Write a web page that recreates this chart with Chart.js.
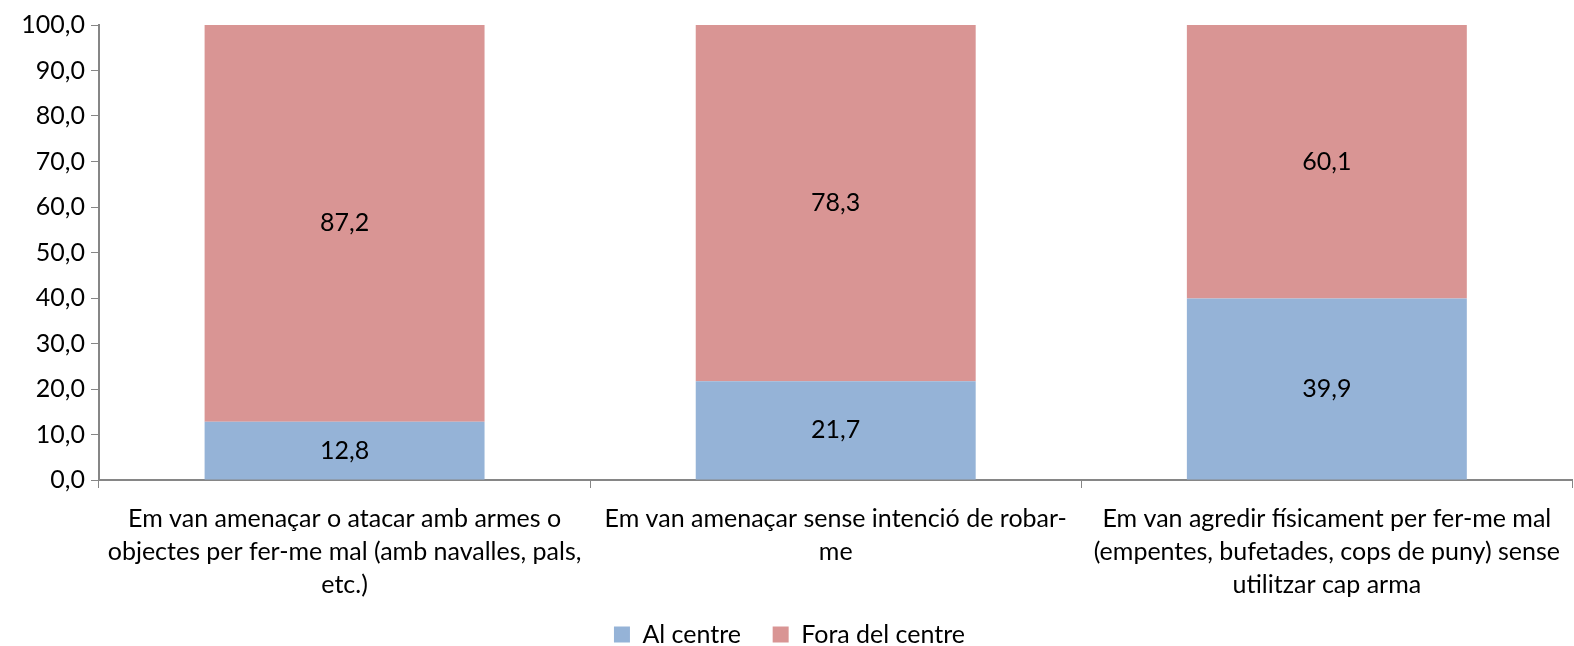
<!DOCTYPE html>
<html>
<head>
<meta charset="utf-8">
<script src="https://cdn.jsdelivr.net/npm/chart.js@4/dist/chart.umd.min.js"></script>
<style>
  html, body { margin: 0; padding: 0; background: #fff; }
  #wrap { width: 1574px; height: 646px; }
</style>
</head>
<body>
<div id="wrap"><canvas id="myChart"></canvas></div>
<script>
var categories = [
    ['Em van amenaçar o atacar amb armes o', 'objectes per fer-me mal (amb navalles, pals,', 'etc.)'],
    ['Em van amenaçar sense intenció de robar-', 'me'],
    ['Em van agredir físicament per fer-me mal', '(empentes, bufetades, cops de puny) sense', 'utilitzar cap arma']
];
var alCentre = [12.8, 21.7, 39.9];
var foraCentre = [87.2, 78.3, 60.1];
var seriesNames = ['Al centre', 'Fora del centre'];
var yTicks = [0, 10, 20, 30, 40, 50, 60, 70, 80, 90, 100];

var FONT = 'Lato, "Open Sans", sans-serif';
var SIZE = 25;
var fmt = function(v){ return v.toFixed(1).replace('.', ','); };

// draws the value in the middle of each bar segment
var valueLabels = {
    id: 'valueLabels',
    afterDatasetsDraw: function(chart){
        var c = chart.ctx;
        c.save();
        c.font = SIZE + 'px ' + FONT;
        c.fillStyle = '#000';
        c.textAlign = 'center';
        c.textBaseline = 'middle';
        chart.data.datasets.forEach(function(ds, i){
            chart.getDatasetMeta(i).data.forEach(function(bar, j){
                var mid = (bar.y + bar.base) / 2;
                c.fillText(fmt(ds.data[j]), bar.x, mid);
            });
        });
        c.restore();
    }
};

var ctx = document.getElementById('myChart').getContext('2d');
var myChart = new Chart(ctx, {
    type: 'bar',
    data: {
        labels: categories,
        datasets: [{
            label: seriesNames[0],
            data: alCentre,
            backgroundColor: '#95B3D7',
            categoryPercentage: 1,
            barPercentage: 0.57
        }, {
            label: seriesNames[1],
            data: foraCentre,
            backgroundColor: '#D99594',
            categoryPercentage: 1,
            barPercentage: 0.57
        }]
    },
    options: {
        responsive: true,
        maintainAspectRatio: false,
        animation: false,
        layout: { padding: { top: 25, right: -5, left: 0, bottom: -11 } },
        plugins: {
            legend: {
                position: 'bottom',
                labels: {
                    font: { family: FONT, size: SIZE },
                    color: '#000',
                    boxWidth: 16,
                    boxHeight: 16,
                    padding: 6,
                    // a bit more room between the two legend entries
                    generateLabels: function(chart){
                        var items = Chart.defaults.plugins.legend.labels.generateLabels(chart);
                        items.forEach(function(it, i){
                            if (i < items.length - 1) it.text = it.text + '    ';
                        });
                        return items;
                    }
                }
            },
            tooltip: { enabled: false }
        },
        scales: {
            x: {
                stacked: true,
                afterFit: function(axis){ axis.height = 136; },
                grid: {
                    display: true,
                    drawOnChartArea: false,
                    offset: true,
                    tickLength: 8,
                    color: '#868686'
                },
                border: { color: '#868686', width: 2 },
                ticks: {
                    font: { family: FONT, size: SIZE, lineHeight: 1.32 },
                    color: '#000',
                    maxRotation: 0,
                    autoSkip: false,
                    padding: 14
                }
            },
            y: {
                stacked: true,
                min: 0,
                max: 100,
                afterBuildTicks: function(axis){
                    axis.ticks = yTicks.map(function(v){ return { value: v }; });
                },
                afterFit: function(axis){ axis.width = 99; },
                grid: {
                    display: true,
                    drawOnChartArea: false,
                    tickLength: 8,
                    color: '#868686'
                },
                border: { color: '#868686', width: 2 },
                ticks: {
                    font: { family: FONT, size: SIZE },
                    color: '#000',
                    padding: 6,
                    callback: function(v){ return fmt(v); }
                }
            }
        }
    },
    plugins: [valueLabels]
});
</script>
</body>
</html>
